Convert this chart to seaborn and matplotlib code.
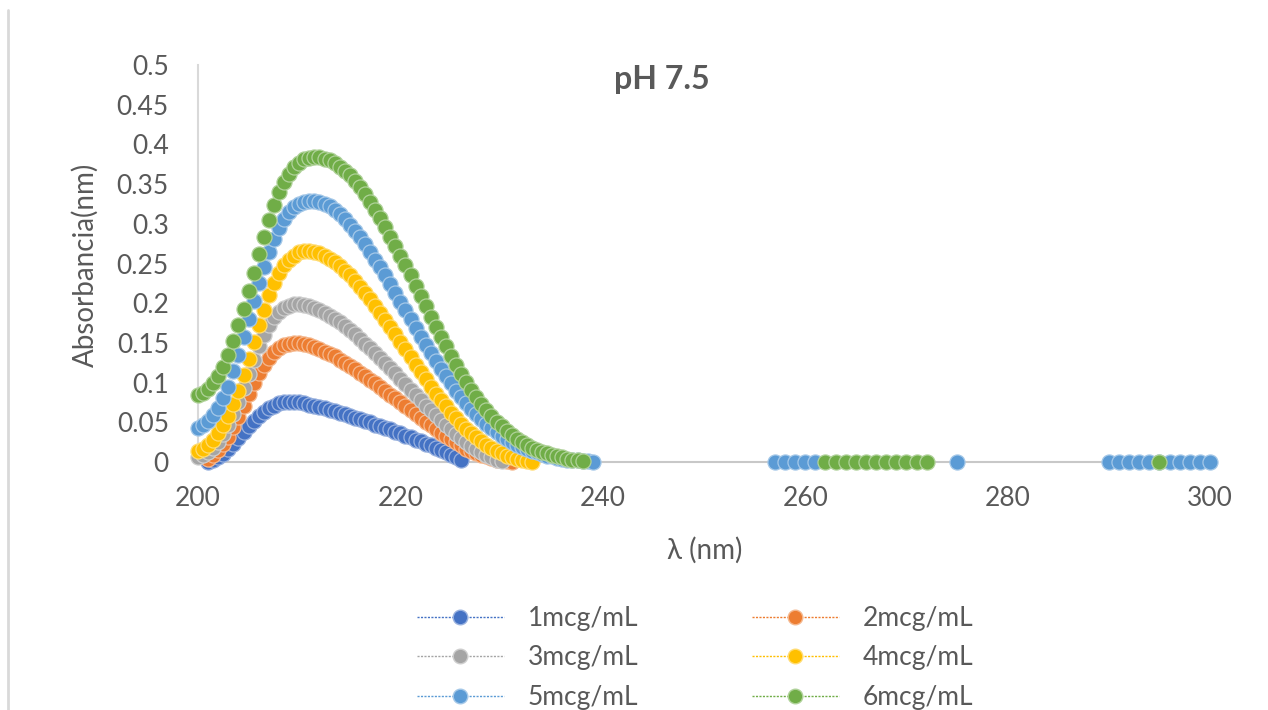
import numpy as np
import pandas as pd
import matplotlib
matplotlib.use("Agg")
import matplotlib.pyplot as plt
from matplotlib.lines import Line2D
import matplotlib.colors as mcolors
import seaborn as sns

# ---------------- data ----------------
# scans recorded every 0.5 nm; each list starts at the wavelength given
step_nm = 0.5
start_1, start_2, start_3, start_4, start_5, start_6 = 201, 201, 200, 200, 200, 200

abs_1 = [0.000, 0.002, 0.006, 0.010, 0.016, 0.023, 0.030, 0.038, 0.045, 0.052,
         0.058, 0.063, 0.068, 0.071, 0.074, 0.075, 0.076, 0.076, 0.075, 0.074,
         0.072, 0.071, 0.069, 0.068, 0.066, 0.064, 0.062, 0.060, 0.058, 0.056,
         0.054, 0.052, 0.050, 0.047, 0.045, 0.043, 0.041, 0.038, 0.036, 0.033,
         0.031, 0.028, 0.026, 0.023, 0.021, 0.018, 0.015, 0.012, 0.009, 0.006,
         0.003]
abs_2 = [0.004, 0.009, 0.015, 0.023, 0.032, 0.044, 0.057, 0.071, 0.086, 0.099,
         0.112, 0.122, 0.131, 0.138, 0.143, 0.147, 0.149, 0.150, 0.150, 0.149,
         0.147, 0.145, 0.142, 0.139, 0.136, 0.133, 0.129, 0.125, 0.121, 0.117,
         0.112, 0.108, 0.103, 0.099, 0.094, 0.090, 0.085, 0.080, 0.075, 0.070,
         0.065, 0.060, 0.055, 0.050, 0.046, 0.041, 0.037, 0.033, 0.029, 0.025,
         0.021, 0.017, 0.014, 0.011, 0.009, 0.007, 0.005, 0.003, 0.002, 0.001,
         0.000]
abs_3 = [0.006, 0.009, 0.012, 0.018, 0.025, 0.035, 0.046, 0.060, 0.076, 0.093,
         0.111, 0.129, 0.146, 0.160, 0.173, 0.182, 0.189, 0.194, 0.197, 0.199,
         0.199, 0.198, 0.197, 0.194, 0.191, 0.188, 0.184, 0.180, 0.176, 0.171,
         0.166, 0.161, 0.155, 0.149, 0.143, 0.137, 0.131, 0.125, 0.118, 0.112,
         0.105, 0.098, 0.091, 0.085, 0.078, 0.071, 0.065, 0.059, 0.053, 0.047,
         0.041, 0.035, 0.030, 0.025, 0.020, 0.016, 0.012, 0.009, 0.006, 0.003,
         0.001]
abs_4 = [0.014, 0.017, 0.022, 0.028, 0.036, 0.046, 0.058, 0.073, 0.090, 0.109,
         0.130, 0.151, 0.172, 0.192, 0.210, 0.225, 0.238, 0.248, 0.255, 0.260,
         0.264, 0.266, 0.266, 0.265, 0.263, 0.260, 0.256, 0.252, 0.247, 0.241,
         0.235, 0.228, 0.221, 0.213, 0.205, 0.197, 0.188, 0.179, 0.170, 0.161,
         0.151, 0.142, 0.132, 0.122, 0.113, 0.104, 0.095, 0.086, 0.078, 0.070,
         0.062, 0.055, 0.048, 0.042, 0.036, 0.031, 0.026, 0.022, 0.018, 0.014,
         0.011, 0.008, 0.006, 0.004, 0.003, 0.001, 0.000]
abs_5 = [0.043, 0.047, 0.052, 0.059, 0.068, 0.080, 0.095, 0.114, 0.135, 0.157,
         0.180, 0.203, 0.225, 0.246, 0.265, 0.281, 0.295, 0.306, 0.315, 0.321,
         0.325, 0.328, 0.329, 0.329, 0.328, 0.325, 0.322, 0.317, 0.312, 0.306,
         0.299, 0.291, 0.283, 0.274, 0.265, 0.255, 0.245, 0.235, 0.224, 0.213,
         0.202, 0.191, 0.180, 0.169, 0.158, 0.147, 0.137, 0.127, 0.117, 0.108,
         0.099, 0.090, 0.082, 0.074, 0.067, 0.060, 0.054, 0.048, 0.043, 0.038,
         0.033, 0.029, 0.025, 0.022, 0.019, 0.016, 0.014, 0.012, 0.010, 0.008,
         0.007, 0.005, 0.004, 0.003, 0.002, 0.002, 0.001, 0.001, 0.000]
abs_6 = [0.084, 0.087, 0.092, 0.099, 0.108, 0.120, 0.135, 0.152, 0.172, 0.193,
         0.215, 0.238, 0.262, 0.284, 0.305, 0.324, 0.340, 0.353, 0.363, 0.371,
         0.377, 0.381, 0.383, 0.384, 0.384, 0.382, 0.380, 0.376, 0.372, 0.367,
         0.361, 0.354, 0.346, 0.337, 0.328, 0.318, 0.307, 0.296, 0.284, 0.272,
         0.260, 0.248, 0.235, 0.222, 0.209, 0.196, 0.183, 0.170, 0.158, 0.146,
         0.134, 0.122, 0.111, 0.101, 0.091, 0.082, 0.073, 0.065, 0.058, 0.051,
         0.045, 0.039, 0.034, 0.029, 0.025, 0.021, 0.018, 0.015, 0.013, 0.011,
         0.009, 0.007, 0.006, 0.004, 0.003, 0.002, 0.001]

# baseline (zero absorbance) readings further along the scan
base_wl_5 = [257, 258, 259, 260, 261, 275, 290, 291, 292, 293, 294, 295,
             296, 297, 298, 299, 300]
base_abs_5 = [0.0] * len(base_wl_5)
base_wl_6 = [262, 263, 264, 265, 266, 267, 268, 269, 270, 271, 272, 295]
base_abs_6 = [0.0] * len(base_wl_6)

labels = ["1mcg/mL", "2mcg/mL", "3mcg/mL", "4mcg/mL", "5mcg/mL", "6mcg/mL"]
colors = ["#4472C4", "#ED7D31", "#A5A5A5", "#FFC000", "#5B9BD5", "#70AD47"]

title = "pH 7.5"
xlabel = "λ (nm)"
ylabel = "Absorbancia(nm)"
xticks = [200, 220, 240, 260, 280, 300]
yticks = [0, 0.05, 0.1, 0.15, 0.2, 0.25, 0.3, 0.35, 0.4, 0.45, 0.5]
ytick_labels = ["0", "0.05", "0.1", "0.15", "0.2", "0.25", "0.3", "0.35",
                "0.4", "0.45", "0.5"]

# ---------------- build table ----------------
curves = [abs_1, abs_2, abs_3, abs_4, abs_5, abs_6]
starts = [start_1, start_2, start_3, start_4, start_5, start_6]
rows = []
for lab, st, vals in zip(labels, starts, curves):
    for i, v in enumerate(vals):
        rows.append((lab, st + step_nm * i, v))
for w, v in zip(base_wl_5, base_abs_5):
    rows.append((labels[4], w, v))
for w, v in zip(base_wl_6, base_abs_6):
    rows.append((labels[5], w, v))
df = pd.DataFrame(rows, columns=["series", "wl", "abs"])

# ---------------- style ----------------
sns.set_theme(style="white")
FAM = ["Lato", "DejaVu Sans"]
plt.rcParams["font.family"] = FAM
TXT = "#595959"

W, H = 1268, 710
fig = plt.figure(figsize=(W / 100, H / 100), dpi=100)
L, R, B, T = 198, 1210, 462, 65
ax = fig.add_axes([L / W, 1 - B / H, (R - L) / W, (B - T) / H])


def lighten(c, f=0.45):
    r, g, b = mcolors.to_rgb(c)
    return (r + (1 - r) * f, g + (1 - g) * f, b + (1 - b) * f)


for lab, col in zip(labels, colors):
    sub = df[df["series"] == lab]
    sns.scatterplot(data=sub, x="wl", y="abs", ax=ax, color=col, s=118,
                    edgecolor=lighten(col), linewidth=0.9, legend=False,
                    clip_on=False, zorder=3)

ax.set_xlim(200, 300)
ax.set_ylim(0, 0.5)
ax.set_xticks(xticks)
ax.set_yticks(yticks)
ax.set_yticklabels(ytick_labels)
ax.set_xticklabels([str(x) for x in xticks])
ax.tick_params(axis="both", length=0, labelsize=19, colors=TXT)
ax.tick_params(axis="y", pad=21)
ax.tick_params(axis="x", pad=17)

for s in ["top", "right"]:
    ax.spines[s].set_visible(False)
ax.spines["left"].set_color("#D9D9D9")
ax.spines["left"].set_linewidth(1.5)
ax.spines["bottom"].set_color("#C8C8C8")
ax.spines["bottom"].set_linewidth(1.5)
ax.spines["bottom"].set_zorder(1)

ax.set_xlabel(xlabel, fontsize=20, color=TXT, family=FAM)
ax.set_ylabel(ylabel, fontsize=20, color=TXT, family=FAM)
ax.xaxis.set_label_coords((705 - L) / (R - L), (B - 550) / (B - T))
ax.xaxis.label.set_va("center")
ax.yaxis.set_label_coords((85 - L) / (R - L), (B - 265) / (B - T))
ax.yaxis.label.set_va("center")

ax.text((662 - L) / (R - L), (B - 80) / (B - T), title, transform=ax.transAxes,
        ha="center", va="center", fontsize=23, fontweight="bold", color=TXT)

handles = [Line2D([0], [0], color=c, lw=1, ls=(0, (1.5, 1)), marker="o",
                  markersize=10.5, markerfacecolor=c,
                  markeredgecolor=lighten(c), markeredgewidth=1)
           for c in colors]
order = [0, 2, 4, 1, 3, 5]  # row-wise reading order like the original
leg = fig.legend([handles[i] for i in order], [labels[i] for i in order],
                 loc="center", ncol=2,
                 bbox_to_anchor=(695 / W, 1 - 658 / H), frameon=False,
                 fontsize=19, handlelength=3.3, handletextpad=0.9,
                 columnspacing=4.3, labelspacing=0.55)
for t in leg.get_texts():
    t.set_color(TXT)

fig.add_artist(Line2D([8 / W, 8 / W], [0, 1 - 10 / H], color="#D9D9D9",
                      lw=2, transform=fig.transFigure))

fig.savefig("out.png", dpi=100, facecolor="white")
